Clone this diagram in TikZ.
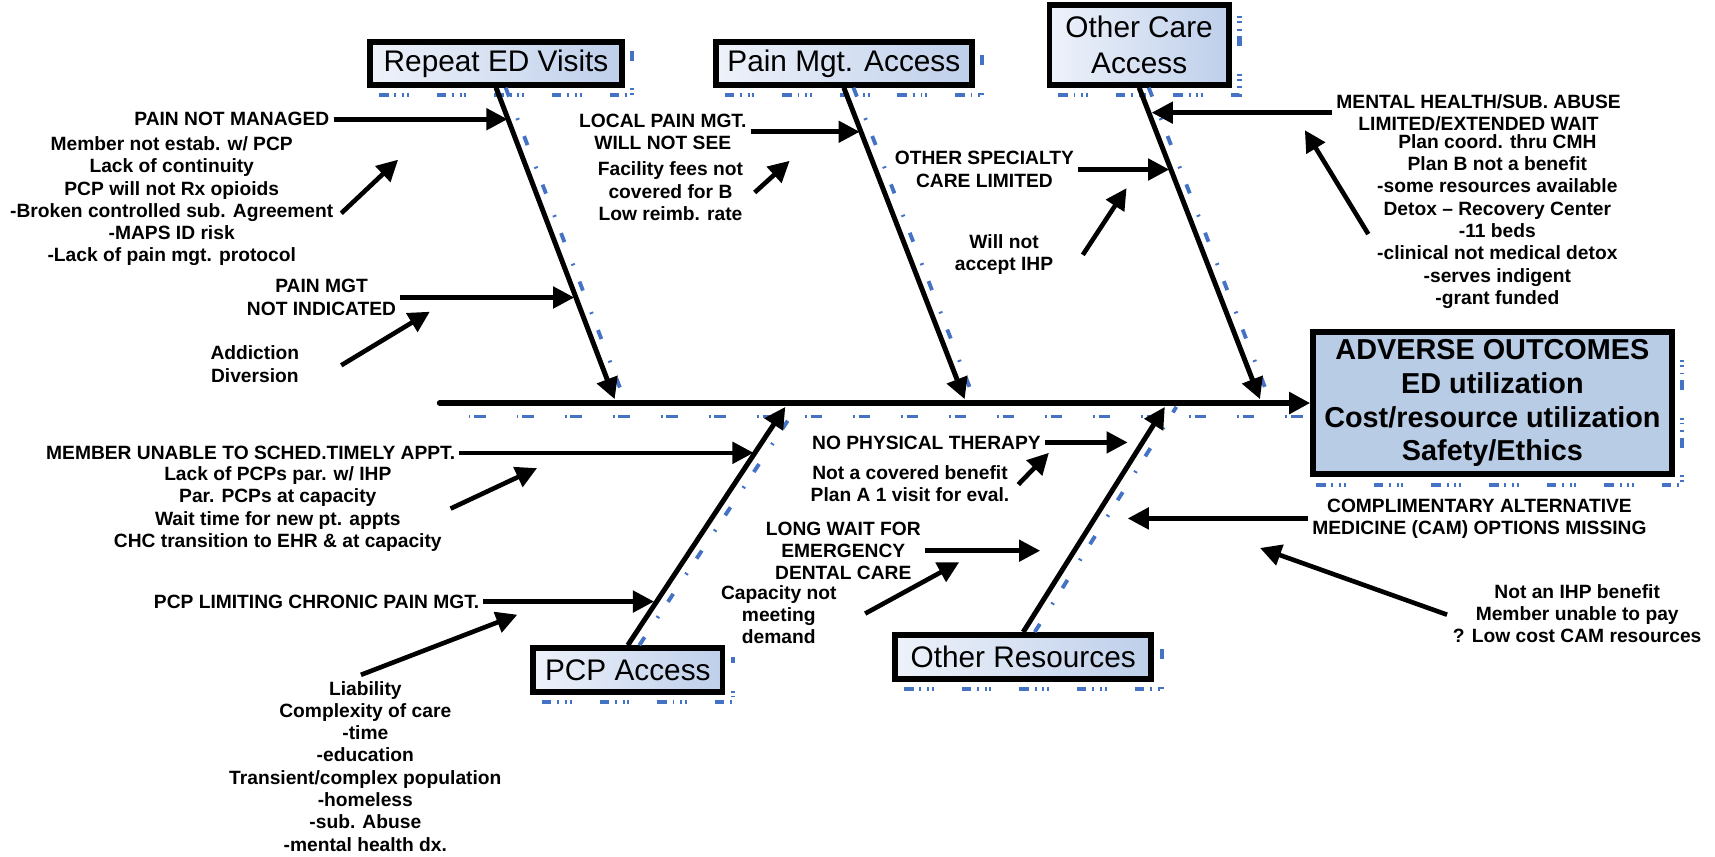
\documentclass[tikz,border=0pt]{standalone}
\usepackage{fontspec}
\setmainfont{Liberation Sans}
\usepackage{tikz}
\usetikzlibrary{arrows.meta,positioning,calc}

\definecolor{effectblue}{RGB}{185,204,230}
\definecolor{catlight}{RGB}{238,242,250}
\definecolor{catdark}{RGB}{190,207,234}
\definecolor{shadowblue}{RGB}{68,114,196}

\begin{document}
\begin{tikzpicture}[x=0.02cm, y=-0.02cm,
    fishtip/.style={-{Triangle[length=11pt,width=11pt]}},
    spine/.style={line width=3pt, line cap=round, fishtip},
    bone/.style={line width=2.6pt, fishtip},
    causearrow/.style={line width=2.4pt, fishtip},
    catbox/.style={draw, line width=3pt, left color=catlight, right color=catdark, inner sep=0pt, align=center, font=\fontsize{15.5}{19}\selectfont},
    effectbox/.style={draw, line width=3pt, fill=effectblue, inner sep=0pt, align=center, font=\fontsize{15}{17.6}\selectfont\bfseries},
    cause/.style={inner sep=2pt, align=center, font=\fontsize{10}{11.6}\selectfont\bfseries},
    boxshadow/.style={draw=shadowblue, line width=2.2pt, dash pattern=on 5pt off 3pt on 1pt off 3pt on 1pt off 1.5pt on 1pt off 14.5pt},
    boneshadow/.style={draw=shadowblue, line width=2pt, dash pattern=on 5pt off 12pt on 1pt off 9pt},
    spineshadow/.style={draw=shadowblue, line width=1.2pt, dash pattern=on 1pt off 2pt on 6pt off 16pt}]
  \useasboundingbox (0,0) rectangle (1568,783);

  % Head and spine
  \node[effectbox, minimum width=6.56cm, minimum height=2.6cm] (effect) at (1364.5,368.5)
    {ADVERSE OUTCOMES\\ED utilization\\Cost/resource utilization\\Safety/Ethics};
  \coordinate (tail) at (402,368.5);
  \draw[boxshadow] ([shift={(3pt,-4pt)}]effect.south west) -- ([shift={(4pt,-4pt)}]effect.south east) -- ([shift={(4pt,-7pt)}]effect.north east);
  \draw[spineshadow] ([shift={(15pt,-7pt)}]tail) -- ([shift={(-4pt,-7pt)}]effect.west);
  \draw[spine] (tail) -- (effect.west);

  % Category boxes
  \node[catbox, minimum width=4.6cm, minimum height=0.78cm] (rv) at (453.5,58) {Repeat ED Visits};
  \node[catbox, minimum width=4.68cm, minimum height=0.78cm] (pm) at (771.5,58) {Pain Mgt. Access};
  \node[catbox, minimum width=3.28cm, minimum height=1.46cm] (oc) at (1041.5,41) {Other Care\\Access};
  \node[catbox, minimum width=3.46cm, minimum height=0.8cm] (pcp) at (574,612.5) {PCP Access};
  \node[catbox, minimum width=4.68cm, minimum height=0.8cm] (ores) at (935.5,600.5) {Other Resources};
  \foreach \b in {rv,pm,oc,pcp,ores}
    \draw[boxshadow] ([shift={(6pt,-4pt)}]\b.south west) -- ([shift={(4pt,-4pt)}]\b.south east) -- ([shift={(4pt,-6pt)}]\b.north east);

  % Bones
  \coordinate (rvend) at (562,365);
  \coordinate (pmend) at (882,365);
  \coordinate (ocend) at (1152,365);
  \coordinate (pcpend) at (718,372);
  \coordinate (oresend) at (1065,372);
  \draw[boneshadow] ([xshift=5pt]rv.south) -- ([xshift=5pt]rvend);
  \draw[boneshadow] ([xshift=5pt]pm.south) -- ([xshift=5pt]pmend);
  \draw[boneshadow] ([xshift=5pt]oc.south) -- ([xshift=5pt]ocend);
  \draw[boneshadow] ([xshift=6pt]pcp.north) -- ([xshift=6pt]pcpend);
  \draw[boneshadow] ([xshift=6pt]ores.north) -- ([xshift=6pt]oresend);
  \draw[bone] (rv.south) -- (rvend);
  \draw[bone] (pm.south) -- (pmend);
  \draw[bone] (oc.south) -- (ocend);
  \draw[bone] (pcp.north) -- (pcpend);
  \draw[bone] (ores.north) -- (oresend);

  % Repeat ED Visits
  \node[cause, anchor=east] (pnm) at (305,109) {PAIN NOT MANAGED};
  \node[cause] (pnmwhy) at (157,184) {Member not estab. w/ PCP\\Lack of continuity\\PCP will not Rx opioids\\-Broken controlled sub. Agreement\\-MAPS ID risk\\-Lack of pain mgt. protocol};
  \node[cause, anchor=east] (pmni) at (366,272) {PAIN MGT\\NOT INDICATED};
  \node[cause] (pmniwhy) at (233,333) {Addiction\\Diversion};
  \coordinate (pnmtip) at (464,109);
  \coordinate (pmnitip) at (525,272);
  \draw[causearrow] (pnm.east) -- (pnm.east -| pnmtip);
  \draw[causearrow] (pmni.east) -- (pmni.east -| pmnitip);
  \coordinate (w1) at (312,195); \coordinate (w1t) at (364,146);
  \coordinate (w2) at (312,334); \coordinate (w2t) at (393,285);
  \draw[causearrow] (w1) -- (w1t);
  \draw[causearrow] (w2) -- (w2t);

  % Pain Mgt. Access
  \node[cause] (lpm) at (606,120.5) {LOCAL PAIN MGT.\\WILL NOT SEE};
  \node[cause] (lpmwhy) at (613,175) {Facility fees not\\covered for B\\Low reimb. rate};
  \coordinate (lpmtip) at (786,121);
  \draw[causearrow] (lpm.east) -- (lpm.east -| lpmtip);
  \coordinate (w3) at (690,176); \coordinate (w3t) at (722,147);
  \draw[causearrow] (w3) -- (w3t);

  % Other Care Access
  \node[cause] (osc) at (900,155) {OTHER SPECIALTY\\CARE LIMITED};
  \node[cause] (oscwhy) at (918,232.5) {Will not\\accept IHP};
  \node[cause, anchor=west] (mh) at (1218,103) {MENTAL HEALTH/SUB. ABUSE\\LIMITED/EXTENDED WAIT};
  \node[cause] (mhwhy) at (1369,202.5) {Plan coord. thru CMH\\Plan B not a benefit\\-some resources available\\Detox \textendash{} Recovery Center\\-11 beds\\-clinical not medical detox\\-serves indigent\\-grant funded};
  \coordinate (osctip) at (1069,155);
  \coordinate (mhtip) at (1053,103);
  \draw[causearrow] (osc.east) -- (osc.east -| osctip);
  \draw[causearrow] (mh.west) -- (mh.west -| mhtip);
  \coordinate (w4) at (990,233); \coordinate (w4t) at (1030,172);
  \coordinate (w5) at (1251,214); \coordinate (w5t) at (1193,119);
  \draw[causearrow] (w4) -- (w4t);
  \draw[causearrow] (w5) -- (w5t);

  % PCP Access
  \node[cause, anchor=east] (mem) at (420,414) {MEMBER UNABLE TO SCHED.TIMELY APPT.};
  \node[cause] (memwhy) at (254,465.5) {Lack of PCPs par. w/ IHP\\Par. PCPs at capacity\\Wait time for new pt. appts\\CHC transition to EHR \& at capacity};
  \node[cause, anchor=east] (pcpl) at (442,550) {PCP LIMITING CHRONIC PAIN MGT.};
  \node[cause] (pcplwhy) at (334,700.5) {Liability\\Complexity of care\\-time\\-education\\Transient/complex population\\-homeless\\-sub. Abuse\\-mental health dx.};
  \coordinate (memtip) at (689,414);
  \coordinate (pcpltip) at (598,550);
  \draw[causearrow] (mem.east) -- (mem.east -| memtip);
  \draw[causearrow] (pcpl.east) -- (pcpl.east -| pcpltip);
  \coordinate (w6) at (412,465); \coordinate (w6t) at (491,428);
  \coordinate (w7) at (330,617); \coordinate (w7t) at (473,562);
  \draw[causearrow] (w6) -- (w6t);
  \draw[causearrow] (w7) -- (w7t);

  % Other Resources
  \node[cause] (npt) at (847,404.5) {NO PHYSICAL THERAPY};
  \node[cause] (nptwhy) at (832,442) {Not a covered benefit\\Plan A 1 visit for eval.};
  \node[cause] (lw) at (771,503.5) {LONG WAIT FOR\\EMERGENCY\\DENTAL CARE};
  \node[cause] (lwwhy) at (712,562) {Capacity not\\meeting\\demand};
  \node[cause, anchor=west] (cam) at (1196,474) {COMPLIMENTARY ALTERNATIVE\\MEDICINE (CAM) OPTIONS MISSING};
  \node[cause] (camwhy) at (1442,561) {Not an IHP benefit\\Member unable to pay\\? Low cost CAM resources};
  \coordinate (npttip) at (1031,404.5);
  \coordinate (lwtip) at (951,505);
  \coordinate (camtip) at (1031,474);
  \draw[causearrow] (npt.east) -- (npt.east -| npttip);
  \draw[causearrow] (lw.east) -- (lw.east -| lwtip);
  \draw[causearrow] (cam.west) -- (cam.west -| camtip);
  \coordinate (w8) at (931,443); \coordinate (w8t) at (959,414);
  \coordinate (w9) at (791,561); \coordinate (w9t) at (877,514);
  \coordinate (w10) at (1323,562); \coordinate (w10t) at (1152,501);
  \draw[causearrow] (w8) -- (w8t);
  \draw[causearrow] (w9) -- (w9t);
  \draw[causearrow] (w10) -- (w10t);
\end{tikzpicture}
\end{document}
